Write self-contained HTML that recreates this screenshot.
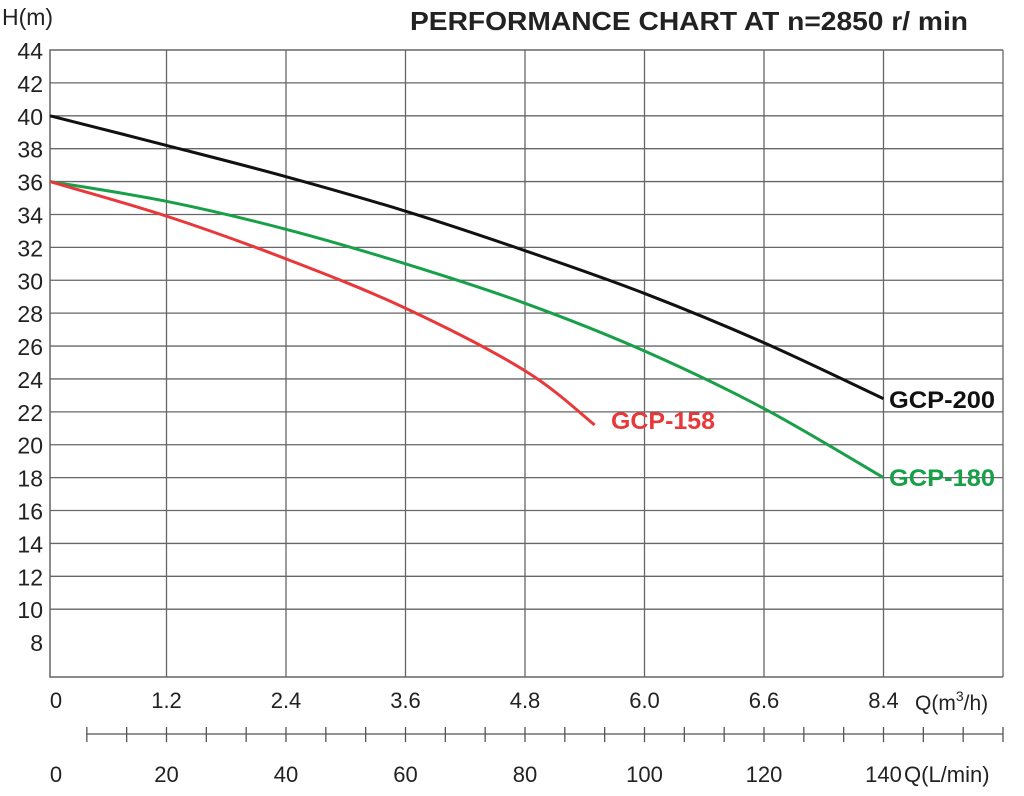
<!DOCTYPE html>
<html><head><meta charset="utf-8"><style>
body{margin:0;background:#fff;}
svg text{font-family:"Liberation Sans",Arial,sans-serif;}
</style></head><body>
<svg id="c" width="1024" height="791" xmlns="http://www.w3.org/2000/svg"></svg>
<script>
const qTicks=[0,1.2,2.4,3.6,4.8,6.0,7.2,8.4,9.6];
const qLabels=["0","1.2","2.4","3.6","4.8","6.0","6.6","8.4"];
const hTicks=[44,42,40,38,36,34,32,30,28,26,24,22,20,18,16,14,12,10,8];
const lLabels=["0","20","40","60","80","100","120","140"];
const q200=[0,1.2,2.4,3.6,4.8,6.0,7.2,8.4];
const h200=[40,38.2,36.3,34.2,31.8,29.2,26.2,22.8];
const q180=[0,1.2,2.4,3.6,4.8,6.0,7.2,8.4];
const h180=[36,34.8,33.1,31.0,28.6,25.7,22.2,18.0];
const q158=[0,1.2,2.4,3.6,4.8,5.5];
const h158=[36,33.9,31.3,28.3,24.5,21.2];
const X0=50,X1=1003,Y0=50,Y1=675;
const xs=q=>q===0?X0:(X1-(9.6-q)/1.2*119.5);
const ys=h=>Y0+(44-h)/38*(Y1-Y0);
const svg=document.getElementById('c');
const NS="http://www.w3.org/2000/svg";
function mk(t,a,txt){const e=document.createElementNS(NS,t);for(const k in a)e.setAttribute(k,a[k]);if(txt!==undefined)e.textContent=txt;svg.appendChild(e);return e;}
hTicks.forEach(h=>{if(h<44&&h>8){const l=mk('line',{x1:X0,x2:X1,y1:ys(h),y2:ys(h),stroke:'#666','stroke-width':1.3});

}});
qTicks.forEach(q=>{if(q>0){const l=mk('line',{x1:xs(q),x2:xs(q),y1:Y0,y2:Y1+2,stroke:'#666','stroke-width':1.3});

}});
const fr=mk('polyline',{points:`${X1},${Y0} ${X0},${Y0} ${X0},${Y1+2} ${X1},${Y1+2}`,fill:'none',stroke:'#666','stroke-width':1.5});


hTicks.forEach(h=>{const t=mk('text',{x:43,y:ys(h)+9,'text-anchor':'end','font-size':23,fill:'#222'},String(h));

});
qLabels.forEach((s,i)=>{const t=mk('text',{x:xs(qTicks[i])+(i==0?6:0),y:708,'text-anchor':'middle','font-size':22,fill:'#222'},s);

});
lLabels.forEach((s,i)=>{const t=mk('text',{x:xs(qTicks[i])+(i==0?6:0),y:782,'text-anchor':'middle','font-size':22,fill:'#222'},s);

});
const al=mk('line',{x1:86,x2:X1,y1:734,y2:734,stroke:'#555','stroke-width':1.3});


for(let x=X1;x>=85;x-=119.5/3){const tk=mk('line',{x1:x,x2:x,y1:727,y2:742,stroke:'#555','stroke-width':1.3});

}
function path(qs,hs){const p=qs.map((q,i)=>[xs(q),ys(hs[i])]);let d=`M${p[0][0]},${p[0][1]}`;
for(let i=0;i<p.length-1;i++){const p0=p[i-1]||p[i],p1=p[i],p2=p[i+1],p3=p[i+2]||p2;
d+=` C${p1[0]+(p2[0]-p0[0])/6},${p1[1]+(p2[1]-p0[1])/6} ${p2[0]-(p3[0]-p1[0])/6},${p2[1]-(p3[1]-p1[1])/6} ${p2[0]},${p2[1]}`;}return d;}
[[q200,h200,'#111','curve-gcp-200'],[q180,h180,'#17a048','curve-gcp-180'],[q158,h158,'#e8383a','curve-gcp-158']].forEach(s=>{
const e=mk('path',{d:path(s[0],s[1]),fill:'none',stroke:s[2],'stroke-width':3});

});
</script>
<svg width="1024" height="791" style="position:absolute;left:0;top:0" xmlns="http://www.w3.org/2000/svg">
<text x="2" y="25" font-size="23" fill="#222" font-family="Liberation Sans, sans-serif">H(m)</text>
<text x="410" y="30" font-size="26" font-weight="bold" fill="#222" textLength="558" lengthAdjust="spacingAndGlyphs" font-family="Liberation Sans, sans-serif">PERFORMANCE CHART AT n=2850 r/ min</text>
<text x="889" y="408" font-size="24" font-weight="bold" fill="#111" textLength="106" lengthAdjust="spacingAndGlyphs" font-family="Liberation Sans, sans-serif">GCP-200</text>
<text x="889" y="486" font-size="24" font-weight="bold" fill="#17a048" textLength="106" lengthAdjust="spacingAndGlyphs" font-family="Liberation Sans, sans-serif">GCP-180</text>
<text x="611" y="429" font-size="24" font-weight="bold" fill="#e8383a" textLength="104" lengthAdjust="spacingAndGlyphs" font-family="Liberation Sans, sans-serif">GCP-158</text>
<text x="915" y="710" font-size="21" fill="#222" font-family="Liberation Sans, sans-serif">Q(m<tspan dy="-9" font-size="14">3</tspan><tspan dy="9">/h)</tspan></text>
<text x="904" y="782" font-size="22" fill="#222" font-family="Liberation Sans, sans-serif">Q(L/min)</text>
</svg>
</body></html>
